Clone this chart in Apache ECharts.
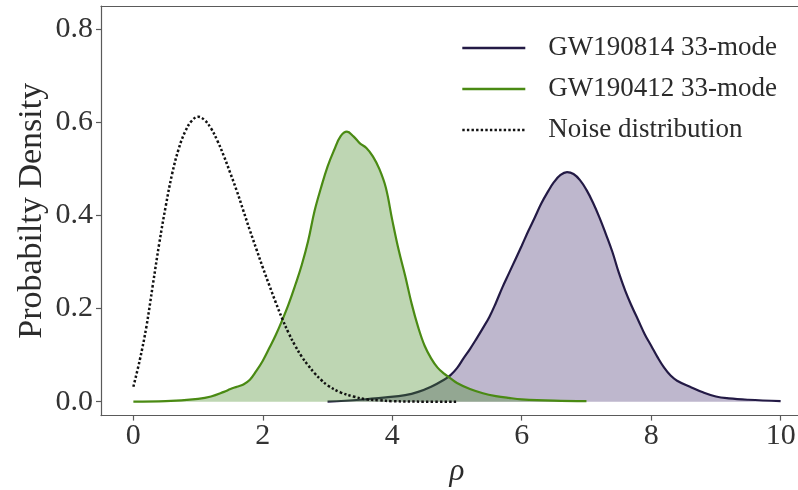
<!DOCTYPE html>
<html>
<head>
<meta charset="utf-8">
<script src="https://cdn.jsdelivr.net/npm/echarts@6/dist/echarts.min.js"></script>
<style>
  html, body { margin: 0; padding: 0; background: #fff; }
  #chart { width: 798px; height: 490px; }
</style>
</head>
<body>
<div id="chart"></div>
<script>
// Density curves of the 33-mode SNR (rho) and the noise-only distribution.
const seriesNames = ['GW190814 33-mode', 'GW190412 33-mode', 'Noise distribution'];

const rhoGW190814 = [3.0, 3.5, 3.9, 4.2, 4.4, 4.6, 4.8, 4.9, 5.0, 5.1, 5.2, 5.3, 5.4, 5.5, 5.6, 5.7, 5.8, 5.9,
  6.0, 6.1, 6.2, 6.3, 6.4, 6.5, 6.6, 6.7, 6.8, 6.9, 7.0, 7.1, 7.2, 7.3, 7.4, 7.5, 7.6, 7.7, 7.8, 7.9,
  8.0, 8.1, 8.2, 8.3, 8.4, 8.6, 8.8, 9.0, 9.2, 9.5, 10.0];
const densGW190814 = [0.0, 0.004, 0.009, 0.014, 0.021, 0.032, 0.047, 0.057, 0.072, 0.093, 0.113, 0.135, 0.158, 0.182, 0.212, 0.245, 0.275, 0.305,
  0.335, 0.366, 0.395, 0.425, 0.45, 0.472, 0.487, 0.493, 0.489, 0.476, 0.455, 0.428, 0.396, 0.36, 0.322, 0.277, 0.238, 0.205, 0.175, 0.145,
  0.12, 0.095, 0.073, 0.056, 0.045, 0.032, 0.02, 0.011, 0.007, 0.004, 0.001];

const rhoGW190412 = [0.0, 0.5, 1.0, 1.2, 1.4, 1.5, 1.6, 1.7, 1.8, 1.9, 2.0, 2.1, 2.2, 2.3, 2.4, 2.5, 2.6, 2.7, 2.8, 2.9,
  3.0, 3.1, 3.2, 3.3, 3.4, 3.5, 3.6, 3.7, 3.8, 3.9, 4.0, 4.1, 4.2, 4.3, 4.4, 4.5, 4.6, 4.7, 4.8, 4.9,
  5.0, 5.2, 5.4, 5.6, 5.8, 6.0, 6.5, 7.0];
const densGW190412 = [0.0, 0.001, 0.006, 0.011, 0.021, 0.027, 0.032, 0.037, 0.047, 0.066, 0.088, 0.115, 0.143, 0.175, 0.21, 0.25, 0.293, 0.345, 0.41, 0.46,
  0.505, 0.54, 0.57, 0.58, 0.57, 0.555, 0.545, 0.527, 0.5, 0.46, 0.39, 0.325, 0.27, 0.21, 0.16, 0.12, 0.093, 0.073, 0.06, 0.05,
  0.04, 0.027, 0.018, 0.012, 0.008, 0.005, 0.002, 0.001];

const rhoNoise = [0.0, 0.1, 0.2, 0.3, 0.4, 0.5, 0.6, 0.7, 0.8, 0.9, 1.0, 1.1, 1.2, 1.3, 1.4, 1.5, 1.6, 1.7, 1.8, 1.9,
  2.0, 2.1, 2.2, 2.3, 2.4, 2.5, 2.6, 2.7, 2.8, 2.9, 3.0, 3.2, 3.4, 3.6, 3.8, 4.0, 4.5, 5.0];
const densNoise = [0.032, 0.09, 0.16, 0.25, 0.34, 0.42, 0.49, 0.543, 0.58, 0.603, 0.612, 0.605, 0.587, 0.56, 0.527, 0.49, 0.452, 0.41, 0.368, 0.328,
  0.288, 0.25, 0.213, 0.178, 0.147, 0.12, 0.097, 0.078, 0.061, 0.047, 0.035, 0.02, 0.011, 0.005, 0.003, 0.001, 0.0, 0.0];

const xTicks = [0, 2, 4, 6, 8, 10];
const yTicks = [0, 0.2, 0.4, 0.6, 0.8];

const zip = (xs, ys) => xs.map((x, i) => [x, ys[i]]);

const FONT = "'Liberation Serif', 'DejaVu Serif', serif";
const AXIS_GRAY = '#5a5a5a';
const frameLine = { show: true, onZero: false, lineStyle: { color: AXIS_GRAY, width: 1.2 } };

const chart = echarts.init(document.getElementById('chart'), null, { renderer: 'canvas' });

chart.setOption({
  animation: false,
  backgroundColor: '#ffffff',
  grid: {
    left: 101, top: 6, width: 712, height: 409.6,
    containLabel: false, outerBoundsMode: 'none', show: false
  },
  legend: {
    orient: 'vertical',
    left: 456, top: 28,
    itemWidth: 63, itemHeight: 14, itemGap: 11,
    data: seriesNames,
    itemStyle: { opacity: 0 },
    lineStyle: { width: 2.6 },
    textStyle: {
      fontFamily: FONT, fontSize: 27, color: '#2b2b2b',
      lineHeight: 30, padding: [0, 0, 0, 18]
    }
  },
  xAxis: [
    {
      type: 'value', min: -0.5, max: 10.5,
      name: 'ρ', nameLocation: 'middle', nameGap: 38,
      nameTextStyle: { fontFamily: FONT, fontSize: 31, fontStyle: 'italic', color: '#2b2b2b' },
      axisLine: frameLine,
      axisTick: { show: true, customValues: xTicks, length: 5, lineStyle: { color: AXIS_GRAY, width: 1.2 } },
      axisLabel: { customValues: xTicks, margin: 6, fontFamily: FONT, fontSize: 30, color: '#333' },
      splitLine: { show: false }
    },
    {
      // top edge of the frame
      type: 'value', position: 'top', min: -0.5, max: 10.5,
      axisLine: frameLine, axisTick: { show: false }, axisLabel: { show: false }, splitLine: { show: false }
    }
  ],
  yAxis: {
    type: 'value', min: -0.03, max: 0.85,
    name: 'Probabilty Density', nameLocation: 'middle', nameGap: 52, nameMoveOverlap: false,
    nameTextStyle: { fontFamily: FONT, fontSize: 34, color: '#2b2b2b' },
    axisLine: frameLine,
    axisTick: { show: true, customValues: yTicks, length: 5, lineStyle: { color: AXIS_GRAY, width: 1.2 } },
    axisLabel: {
      customValues: yTicks, margin: 8, fontFamily: FONT, fontSize: 30, color: '#333',
      formatter: v => v.toFixed(1)
    },
    splitLine: { show: false }
  },
  series: [
    {
      name: seriesNames[0], type: 'line', data: zip(rhoGW190814, densGW190814),
      symbol: 'none', smooth: 0.4,
      lineStyle: { color: '#231a45', width: 2.2 },
      itemStyle: { color: '#231a45' },
      areaStyle: { color: 'rgba(40, 15, 90, 0.3)', opacity: 1 },
      z: 2
    },
    {
      name: seriesNames[1], type: 'line', data: zip(rhoGW190412, densGW190412),
      symbol: 'none', smooth: 0.4,
      lineStyle: { color: '#4a8a13', width: 2.2 },
      itemStyle: { color: '#4a8a13' },
      areaStyle: { color: 'rgba(69, 138, 38, 0.35)', opacity: 1 },
      z: 3
    },
    {
      name: seriesNames[2], type: 'line', data: zip(rhoNoise, densNoise),
      symbol: 'none', smooth: 0.4,
      lineStyle: { color: '#111', width: 2.5, type: [2.4, 2.2] },
      itemStyle: { color: '#111' },
      z: 4
    }
  ]
});
</script>
</body>
</html>
